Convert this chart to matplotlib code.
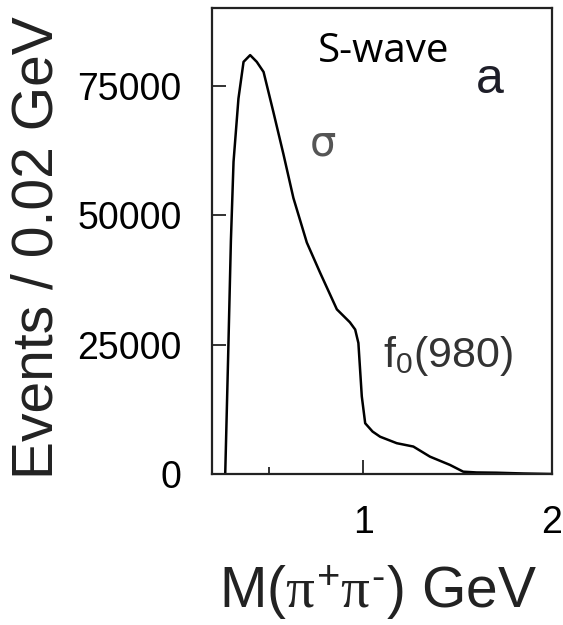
import matplotlib

matplotlib.use('Agg')
import matplotlib.pyplot as plt

# S-wave fit curve, M(pi+ pi-) in GeV vs events / 0.02 GeV
MASS = [0.270, 0.285, 0.300, 0.314, 0.340, 0.367, 0.402, 0.437, 0.473, 0.525,
        0.578, 0.631, 0.702, 0.772, 0.861, 0.930, 0.958, 0.975, 0.993, 1.011,
        1.050, 1.090, 1.178, 1.266, 1.354, 1.460, 1.530, 1.600, 1.707, 1.850,
        2.000]
EVENTS = [0, 22000, 45000, 60300, 72500, 79600, 80900, 79600, 77650, 69900,
          61800, 53300, 44700, 38900, 31800, 29300, 27900, 25300, 15000, 9800,
          8200, 7200, 5950, 5300, 3350, 1750, 450, 300, 250, 100, 0]

Y_TICKS = [0, 25000, 50000, 75000]
X_TICKS = [1, 2]
X_MINOR = [0.5]

W, H = 563, 625

plt.rcParams['font.family'] = ['Liberation Sans', 'DejaVu Sans']
plt.rcParams['mathtext.fontset'] = 'custom'
plt.rcParams['mathtext.rm'] = 'Liberation Sans'
plt.rcParams['mathtext.it'] = 'Liberation Serif'

fig = plt.figure(figsize=(W / 100, H / 100), dpi=100)
ax = fig.add_axes([212 / W, 1 - 474 / H, 340 / W, 466 / H])


def px(x, y):
    # pixel position from the top-left corner -> figure fraction
    return x / W, 1 - y / H


ax.plot(MASS, EVENTS, color='black', lw=1.8, solid_joinstyle='round')

ax.set_xlim(0.2, 2.0)
ax.set_ylim(0, 90000)
ax.set_xticks(X_TICKS)
ax.set_xticklabels([str(v) for v in X_TICKS])
ax.set_xticks(X_MINOR, minor=True)
ax.set_yticks(Y_TICKS)
ax.set_yticklabels([str(v) for v in Y_TICKS])

ax.tick_params(axis='both', which='major', direction='in', length=10, width=1.3,
               labelsize=27, color='#222222', pad=22)
ax.tick_params(axis='x', which='minor', direction='in', length=5, width=1.3,
               color='#222222')
for s in ax.spines.values():
    s.set_linewidth(1.6)
    s.set_color('#222222')

fig.text(*px(384, 52), 'S-wave', fontsize=29, family=['Open Sans', 'DejaVu Sans'],
         ha='center', va='center', color='black')
fig.text(*px(490, 80), 'a', fontsize=36, ha='center', va='center', color='#1e1e28')
fig.text(*px(323, 143), 'σ', fontsize=30, family=['DejaVu Sans'],
         ha='center', va='center', color='#555555')
fig.text(*px(383, 356), r'$\mathrm{f_0}$(980)', fontsize=31,
         ha='left', va='center', color='#333333')

fig.text(*px(38, 248), 'Events / 0.02 GeV', rotation=90, fontsize=41,
         ha='center', va='center', color='#222222')
fig.text(*px(378, 593), r'M($\pi^{+}\pi^{\text{-}}$) GeV', fontsize=41,
         ha='center', va='center', color='#222222')

fig.savefig('out.png', dpi=100)
